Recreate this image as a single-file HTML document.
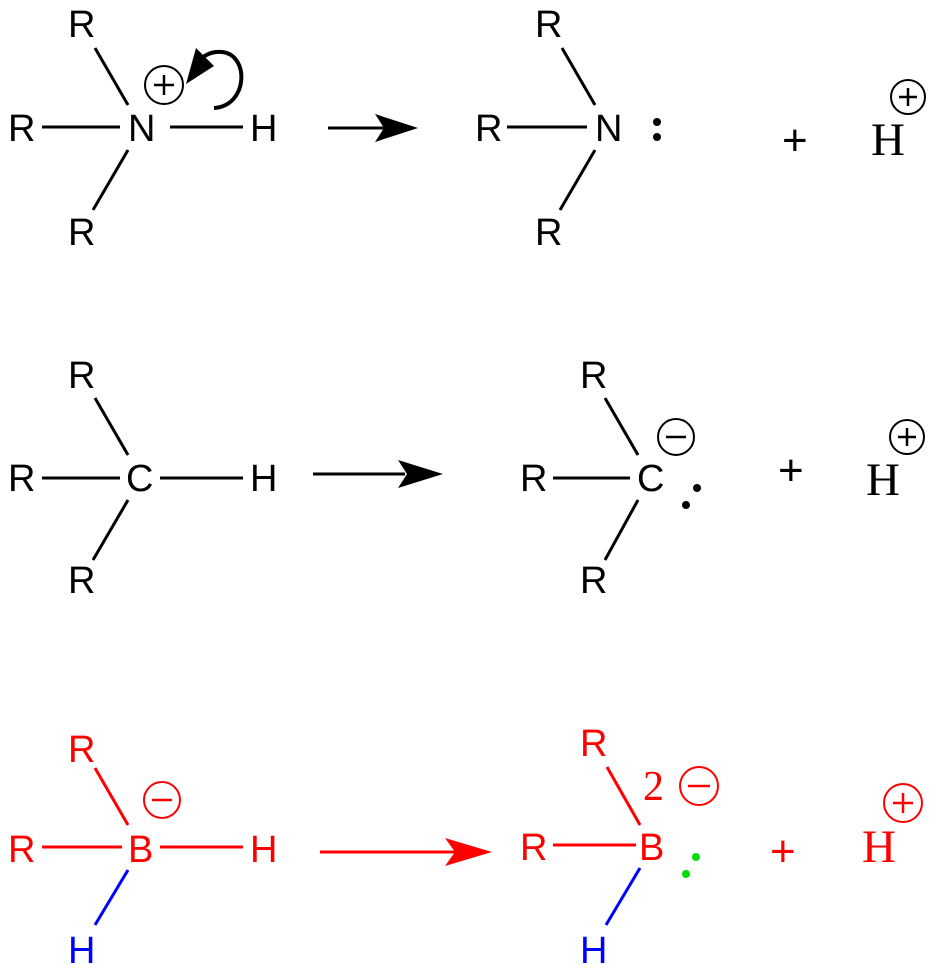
<!DOCTYPE html>
<html><head><style>body{margin:0;background:#fff}svg{display:block}</style></head><body>
<svg width="942" height="972" viewBox="0 0 942 972" xmlns="http://www.w3.org/2000/svg">
<g stroke="#000" stroke-width="3" fill="none">
<line x1="42" y1="127" x2="120" y2="127"/><line x1="170" y1="127" x2="243" y2="127"/>
<line x1="95" y1="48" x2="128" y2="105"/><line x1="128" y1="150" x2="93" y2="210"/>
<circle cx="164" cy="85" r="19" stroke-width="2"/>
<line x1="154" y1="85" x2="174" y2="85" stroke-width="2.5"/><line x1="164" y1="75" x2="164" y2="95" stroke-width="2.5"/>
<path d="M214 108 C248 106 250 55 222 52 C210 51 203 56 198 62" stroke-width="4"/>
<line x1="328" y1="128" x2="385" y2="128"/>
<line x1="507" y1="127" x2="587" y2="127"/>
<line x1="562" y1="48" x2="595" y2="105"/><line x1="595" y1="150" x2="560" y2="210"/>
<circle cx="908" cy="97" r="17" stroke-width="2"/>
<line x1="899" y1="97" x2="917" y2="97" stroke-width="2.5"/><line x1="908" y1="88" x2="908" y2="106" stroke-width="2.5"/>
<line x1="42" y1="478" x2="120" y2="478"/><line x1="160" y1="478" x2="243" y2="478"/>
<line x1="95" y1="398" x2="128" y2="455"/><line x1="128" y1="500" x2="93" y2="560"/>
<line x1="313" y1="474" x2="405" y2="474"/>
<line x1="553" y1="478" x2="630" y2="478"/>
<line x1="605" y1="398" x2="638" y2="455"/><line x1="638" y1="500" x2="605" y2="560"/>
<circle cx="676" cy="437" r="18" stroke-width="2"/><line x1="666" y1="437" x2="686" y2="437" stroke-width="2.5"/>
<circle cx="907" cy="437" r="17" stroke-width="2"/>
<line x1="898" y1="437" x2="916" y2="437" stroke-width="2.5"/><line x1="907" y1="428" x2="907" y2="446" stroke-width="2.5"/>
</g>
<polygon points="186,84 196,48 214,66" fill="#000"/>
<polygon points="375,114 418,128 375,142 384,128" fill="#000"/>
<polygon points="398,460 443,474 398,488 407,474" fill="#000"/>
<circle cx="657" cy="122" r="4" fill="#000"/><circle cx="657" cy="137" r="4" fill="#000"/>
<circle cx="697" cy="488" r="4" fill="#000"/><circle cx="686" cy="505" r="4" fill="#000"/>
<g font-family="Liberation Sans, sans-serif" font-size="38" fill="#000">
<text x="68" y="37">R</text><text x="8" y="141">R</text><text x="128" y="141">N</text><text x="250" y="141">H</text><text x="68" y="245">R</text>
<text x="535" y="37">R</text><text x="475" y="141">R</text><text x="595" y="141">N</text><text x="535" y="245">R</text>
<text x="68" y="388">R</text><text x="8" y="491">R</text><text x="126" y="491">C</text><text x="250" y="491">H</text><text x="68" y="593">R</text>
<text x="580" y="388">R</text><text x="520" y="491">R</text><text x="637" y="491">C</text><text x="580" y="593">R</text>
</g>
<g font-family="Liberation Sans, sans-serif" font-size="44" fill="#000">
<text x="782" y="155">+</text><text x="778" y="485">+</text>
</g>
<g font-family="Liberation Serif, serif" font-size="47" fill="#000"><text x="871" y="155">H</text><text x="866" y="495">H</text></g>
<g stroke="red" stroke-width="3" fill="none">
<line x1="42" y1="847" x2="122" y2="847"/><line x1="160" y1="847" x2="243" y2="847"/>
<line x1="95" y1="768" x2="128" y2="825"/>
<circle cx="162" cy="800" r="18" stroke-width="2"/><line x1="152" y1="800" x2="172" y2="800" stroke-width="2.5"/>
<line x1="320" y1="852" x2="455" y2="852"/>
<line x1="553" y1="845" x2="636" y2="845"/><line x1="607" y1="767" x2="640" y2="825"/>
<circle cx="699" cy="786" r="19" stroke-width="2"/><line x1="688" y1="786" x2="710" y2="786" stroke-width="2.5"/>
<circle cx="903" cy="803" r="19" stroke-width="2"/>
<line x1="893" y1="803" x2="913" y2="803" stroke-width="2.5"/><line x1="903" y1="793" x2="903" y2="813" stroke-width="2.5"/>
</g>
<polygon points="445,838 492,852 445,866 455,852" fill="red"/>
<g stroke="blue" stroke-width="3"><line x1="128" y1="870" x2="95" y2="925"/><line x1="640" y1="868" x2="606" y2="925"/></g>
<circle cx="696" cy="857" r="4" fill="#0d0"/><circle cx="686" cy="874" r="4" fill="#0d0"/>
<g font-family="Liberation Sans, sans-serif" font-size="38" fill="red">
<text x="68" y="762">R</text><text x="8" y="862">R</text><text x="128" y="862">B</text><text x="250" y="862">H</text>
<text x="580" y="756">R</text><text x="520" y="860">R</text><text x="639" y="860">B</text>
</g>
<g font-family="Liberation Sans, sans-serif" font-size="44" fill="red"><text x="770" y="866">+</text></g>
<g font-family="Liberation Sans, sans-serif" font-size="38" fill="blue"><text x="68" y="963">H</text><text x="580" y="963">H</text></g>
<g font-family="Liberation Serif, serif" fill="red"><text x="643" y="800" font-size="42">2</text><text x="862" y="862" font-size="47">H</text></g>
</svg></body></html>
